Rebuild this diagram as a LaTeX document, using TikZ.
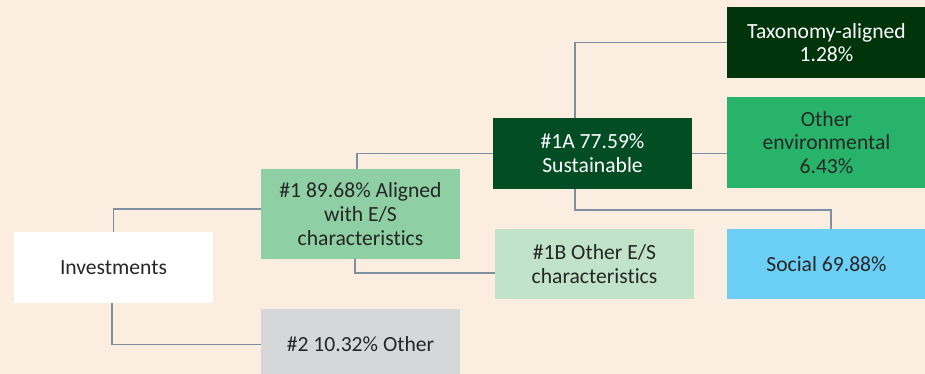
\documentclass[tikz,border=0pt]{standalone}
\usepackage{fontspec}
\setmainfont{Carlito}[Ligatures={NoCommon}]
\usetikzlibrary{calc}
\definecolor{bg}{HTML}{FBEDDF}
\definecolor{ln}{HTML}{7D8FA1}
\definecolor{txt}{HTML}{262626}
\definecolor{cone}{HTML}{8ECFA3}
\definecolor{conea}{HTML}{024D24}
\definecolor{coneb}{HTML}{C0E3C9}
\definecolor{ctax}{HTML}{00350C}
\definecolor{cenv}{HTML}{27B46A}
\definecolor{csoc}{HTML}{6BCFF6}
\definecolor{ctwo}{HTML}{D6D7D9}
\tikzset{
  box/.style={rectangle, inner sep=0pt, align=center, text=txt,
    font=\fontsize{16.2}{17.8}\selectfont, minimum width=199*0.75pt, minimum height=71*0.75pt},
  conn/.style={draw=ln, line width=1.4pt}
}
\begin{document}
\begin{tikzpicture}[x=0.75pt,y=-0.75pt]
\useasboundingbox (0,0) rectangle (925,374);
\fill[bg] (0,0) rectangle (925,374);
\clip (0,0) rectangle (925,374);
% boxes
\node[box, fill=white] (inv) at (113.5,267.5) {Investments};
\node[box, fill=cone, minimum height=90*0.75pt] (one) at (360.5,214) {\#1 89.68\% Aligned\\with E/S\\characteristics};
\node[box, fill=ctwo] (two) at (360.5,344.5) {\#2 10.32\% Other};
\node[box, fill=conea, text=white] (oa) at (592.5,153.5) {\#1A 77.59\%\\Sustainable};
\node[box, fill=coneb, minimum height=70*0.75pt] (ob) at (594.5,264) {\#1B Other E/S\\characteristics};
\node[box, fill=ctax, text=white] (tax) at (826.5,42.5) {Taxonomy-aligned\\1.28\%};
\node[box, fill=cenv, minimum height=91*0.75pt] (env) at (826.5,142.5) {Other\\environmental\\6.43\%};
\node[box, fill=csoc, minimum height=70*0.75pt] (soc) at (826.5,264) {Social 69.88\%};
% connectors
\draw[conn] (inv.north) |- (one.west |- 0,209);
\draw[conn] ($(inv.south)+(-1.5,0)$) |- (two.west);
\draw[conn] ($(one.north)+(-3.5,0)$) |- (oa.west);
\draw[conn] ($(one.south)+(-5.5,0)$) |- (ob.west |- 0,273);
\draw[conn] ($(oa.north)+(-17.5,0)$) |- (tax.west);
\draw[conn] (oa.east) -- (oa.east -| env.west);
\draw[conn] ($(oa.south)+(-17.5,0)$) |- (831,210) -- (soc.north -| 831,0);
\end{tikzpicture}
\end{document}
